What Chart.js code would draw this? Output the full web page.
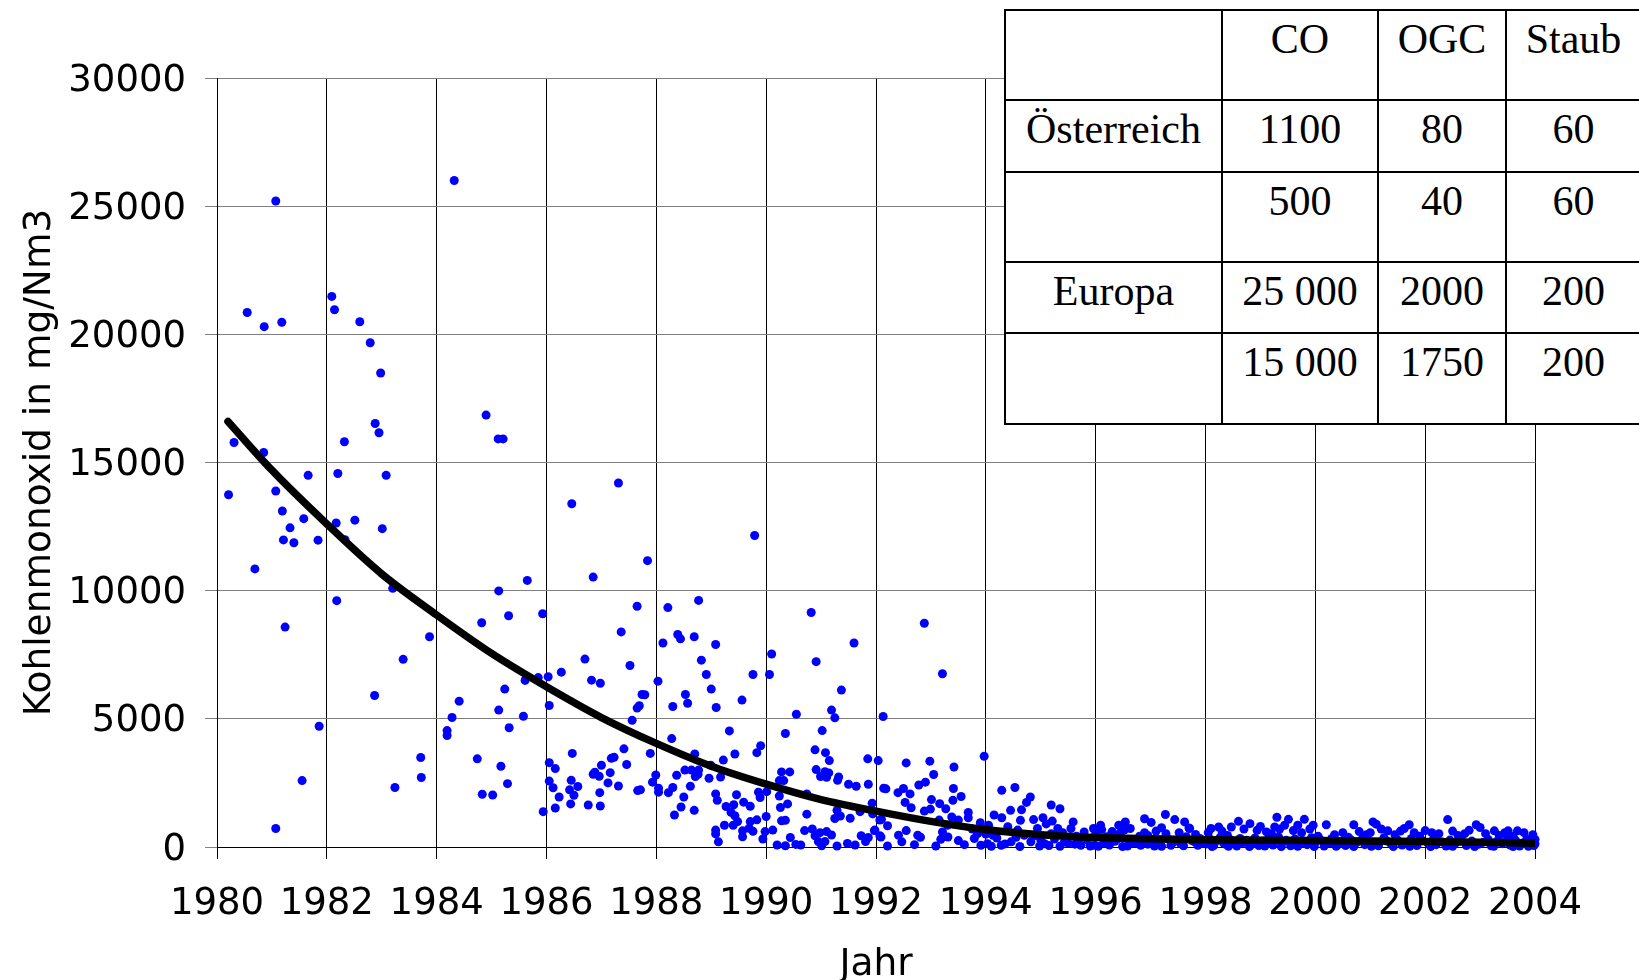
<!DOCTYPE html>
<html>
<head>
<meta charset="utf-8">
<script src="https://cdn.jsdelivr.net/npm/chart.js@4/dist/chart.umd.min.js"></script>
<style>
  body { margin: 0; width: 1639px; height: 980px; overflow: hidden; background: #fff; position: relative; }
  #myChart { position: absolute; left: 0; top: 0; }
  .cell {
    position: absolute; box-sizing: border-box; border: 2px solid #000; background: #fff;
    font: 42px "Liberation Serif", "Times New Roman", serif; line-height: 42px;
    padding-top: 7px; text-align: center; color: #000; white-space: nowrap;
  }
</style>
</head>
<body>
<canvas id="myChart" width="1639" height="980"></canvas>
<div id="limits"></div>
<script>
const early = [
  [1981.07, 25200], [1984.32, 26000], [1980.55, 20850], [1980.86, 20300], [1981.18, 20470],
  [1982.09, 21480], [1982.14, 20960], [1982.60, 20490], [1982.79, 19670], [1982.98, 18490],
  [1982.88, 16520], [1982.95, 16160], [1982.32, 15810], [1980.31, 15780], [1980.85, 15390],
  [1984.90, 16850], [1985.12, 15920], [1985.21, 15920], [1981.66, 14500], [1982.20, 14570],
  [1983.08, 14500], [1981.07, 13890], [1980.21, 13740], [1981.19, 13110], [1981.58, 12810],
  [1981.33, 12450], [1981.21, 11980], [1981.40, 11870], [1981.84, 11970], [1982.17, 12640],
  [1982.51, 12750], [1983.01, 12420], [1982.33, 11990], [1980.69, 10850], [1983.20, 10090],
  [1982.18, 9610], [1981.24, 8580], [1983.87, 8200], [1983.39, 7320], [1982.87, 5910],
  [1981.86, 4710], [1981.55, 2590], [1981.07, 720], [1983.24, 2320], [1983.71, 3490],
  [1983.72, 2710], [1984.19, 4540], [1984.19, 4350], [1984.28, 5050], [1984.41, 5690],
  [1984.82, 8750], [1985.13, 9990], [1985.65, 10400], [1985.31, 9020], [1985.93, 9100],
  [1985.24, 6160], [1985.13, 5340], [1985.58, 5100], [1985.32, 4650], [1985.61, 6500],
  [1985.85, 6610], [1984.74, 3440], [1985.17, 3150], [1985.29, 2470], [1984.83, 2060],
  [1985.02, 2030], [1985.94, 1380]
];

const middle = [
  [1986.03, 6640], [1986.27, 6820], [1986.05, 5520], [1986.05, 3290], [1986.16, 3060],
  [1986.05, 2570], [1986.12, 2310], [1986.23, 1950], [1986.16, 1520],
  [1987.31, 14200], [1986.46, 13390], [1989.79, 12150], [1987.84, 11170], [1986.85, 10530],
  [1987.65, 9390], [1988.21, 9340], [1988.77, 9620], [1990.82, 9150], [1987.36, 8390],
  [1988.12, 7960], [1988.39, 8290], [1988.44, 8120], [1988.69, 8200], [1989.08, 7900],
  [1991.60, 7960], [1988.82, 7290], [1990.10, 7530], [1990.91, 7230], [1986.70, 7330],
  [1987.52, 7080], [1986.82, 6510], [1986.98, 6390], [1988.91, 6730], [1989.76, 6730],
  [1990.06, 6730], [1988.03, 6470], [1989.00, 6160], [1991.37, 6120], [1987.74, 5950],
  [1987.79, 5940], [1988.53, 5950], [1988.57, 5610], [1989.56, 5730], [1987.69, 5510],
  [1987.65, 5420], [1988.30, 5480], [1989.09, 5440], [1991.19, 5340], [1991.25, 5040],
  [1990.55, 5180], [1987.56, 4940], [1989.33, 4530], [1990.35, 4430], [1991.02, 4540],
  [1988.28, 4230], [1987.41, 3830], [1989.90, 3950], [1989.83, 3680], [1990.89, 3790],
  [1991.08, 3680], [1991.15, 3370], [1991.85, 3440], [1992.04, 3370], [1986.47, 3650],
  [1987.89, 3650], [1988.70, 3630], [1989.43, 3630], [1989.22, 3390], [1987.23, 3500],
  [1987.18, 3460], [1987.46, 3220], [1987.00, 3190], [1986.88, 2920], [1986.85, 2840],
  [1986.96, 2760], [1987.16, 2900], [1987.12, 2500], [1987.31, 2380], [1986.45, 2600],
  [1986.57, 2360], [1986.42, 2230], [1986.50, 2020], [1986.44, 1680], [1986.76, 1640],
  [1986.98, 1600], [1986.97, 2120], [1987.66, 2200], [1987.71, 2230], [1987.93, 2530],
  [1987.99, 2810], [1988.04, 2290], [1988.04, 2140], [1988.22, 2120], [1988.30, 2320],
  [1988.37, 2800], [1988.50, 1950], [1988.45, 1560], [1988.33, 1250], [1988.69, 1430],
  [1988.62, 2370], [1988.52, 3000], [1988.64, 3000], [1988.77, 3000], [1988.71, 2750],
  [1988.76, 2840], [1988.96, 2680], [1988.99, 3190], [1989.17, 2730], [1989.08, 2070],
  [1989.11, 1820], [1989.27, 1580], [1989.36, 1350], [1989.46, 2040], [1989.41, 1650],
  [1989.59, 1750], [1989.71, 1590], [1989.43, 1220], [1989.48, 990], [1989.40, 850],
  [1989.24, 850], [1989.08, 660], [1989.08, 510], [1989.13, 200], [1989.57, 630],
  [1989.57, 400], [1989.69, 730], [1989.76, 610], [1989.71, 990], [1989.83, 1060],
  [1989.86, 2140], [1989.89, 1930], [1990.00, 1190], [1990.01, 2160], [1989.94, 310],
  [1989.98, 600], [1990.12, 660], [1990.20, 80], [1990.24, 2590], [1990.32, 2590],
  [1990.28, 2930], [1990.43, 2930], [1990.24, 1990], [1990.26, 1540], [1990.39, 1680],
  [1990.28, 1020], [1990.35, 1040], [1990.35, 50], [1990.44, 370], [1990.54, 100],
  [1990.63, 80], [1990.74, 1280], [1990.74, 2070], [1990.70, 640], [1990.84, 700],
  [1990.89, 440], [1990.98, 560], [1990.95, 210], [1991.01, 50], [1991.10, 600],
  [1991.19, 470], [1991.07, 210], [1991.29, 40], [1991.48, 140], [1991.62, 80],
  [1991.73, 440], [1991.81, 210], [1991.86, 370], [1991.98, 660], [1992.07, 440],
  [1990.91, 3020], [1990.99, 2750], [1991.07, 2940], [1991.14, 2890], [1991.10, 2720],
  [1991.32, 2730], [1991.30, 2600], [1991.50, 2450], [1991.64, 2370], [1991.86, 2450],
  [1991.29, 1430], [1991.25, 1110], [1991.35, 1210], [1991.53, 1120], [1991.71, 1380],
  [1991.93, 1710], [1991.94, 1290], [1992.10, 1080], [1992.13, 5090], [1992.14, 2290]
];

const late = [
  [1992.88, 8730], [1993.21, 6760], [1993.97, 3540], [1992.55, 3280], [1992.98, 3350],
  [1993.42, 3120], [1993.05, 2830], [1992.18, 2270], [1992.90, 2530], [1992.78, 2420],
  [1993.41, 2280], [1992.40, 2120], [1992.50, 2280], [1992.62, 2070], [1993.55, 1970],
  [1993.01, 1850], [1993.16, 1690], [1993.40, 1820], [1992.53, 1740], [1992.64, 1530],
  [1993.27, 1490], [1992.88, 1400], [1992.99, 1480], [1993.68, 1350], [1993.68, 1140],
  [1993.38, 1170], [1994.29, 2210], [1994.53, 2320], [1994.81, 1950], [1994.74, 1740],
  [1994.45, 1430], [1994.65, 1450], [1995.19, 1640], [1995.35, 1490], [1994.15, 1250],
  [1994.29, 1140], [1994.63, 1040], [1994.87, 1070], [1995.04, 1140], [1995.21, 1010],
  [1995.59, 980], [1996.09, 850], [1996.11, 680], [1996.42, 850], [1996.54, 980],
  [1996.63, 720], [1996.89, 1100], [1997.01, 960], [1997.27, 1270], [1997.44, 1070],
  [1997.62, 980], [1997.20, 750], [1997.71, 720], [1997.82, 490], [1992.07, 1050],
  [1992.21, 830], [1991.97, 640], [1992.55, 640], [1992.41, 460], [1992.21, 40],
  [1992.09, 390], [1992.76, 460], [1992.81, 380], [1992.47, 200], [1992.70, 90],
  [1993.09, 40], [1993.21, 590], [1993.18, 300], [1993.31, 390], [1993.61, 90],
  [1993.79, 330], [1993.91, 70], [1994.03, 130], [1994.13, 460], [1994.28, 70],
  [1994.40, 790], [1994.46, 200], [1994.58, 660], [1994.70, 460], [1994.82, 200],
  [1994.94, 720], [1995.07, 130], [1995.19, 520], [1995.31, 720], [1995.43, 200],
  [1995.55, 720], [1995.73, 70], [1995.79, 590], [1995.96, 720], [1995.98, 70],
  [1996.28, 460], [1996.49, 20], [1996.52, 660], [1996.82, 70], [1996.89, 560],
  [1997.07, 40], [1997.28, 520], [1997.37, 70], [1997.52, 560], [1997.86, 70],
  [1993.50, 1050], [1993.75, 700], [1993.90, 950], [1994.00, 500], [1993.30, 850],
  [1993.15, 1050], [1993.50, 250], [1993.85, 520], [1994.05, 850], [1994.20, 350],
  [1994.35, 120], [1994.55, 380], [1994.90, 450], [1995.00, 280], [1995.10, 900],
  [1995.25, 310], [1995.40, 560], [1995.50, 150], [1995.65, 420], [1995.85, 260],
  [1996.00, 510], [1996.15, 160], [1996.20, 400], [1996.35, 220], [1996.45, 560],
  [1996.60, 300], [1996.70, 150], [1996.80, 420], [1997.00, 250], [1997.10, 620],
  [1997.15, 180], [1997.30, 330], [1997.45, 240], [1997.55, 120], [1997.65, 400],
  [1997.75, 250], [1997.90, 330], [1997.95, 150], [1997.70, 740],
  [1994.10, 30], [1994.62, 20], [1994.98, 40], [1995.15, 60], [1995.35, 30],
  [1995.62, 110], [1995.90, 40], [1996.05, 30], [1996.25, 80], [1996.40, 320],
  [1996.58, 40], [1996.75, 250], [1996.95, 110], [1997.20, 30], [1997.40, 160],
  [1997.60, 50], [1997.80, 200], [1996.30, 600], [1996.95, 450], [1995.70, 350]
];

const recent = [
  [1998.10, 720], [1998.24, 780], [1998.47, 780], [1998.60, 1000], [1998.81, 910],
  [1998.94, 650], [1999.11, 590], [1999.30, 1160], [1999.26, 780], [1999.51, 1080],
  [1999.44, 850], [1999.68, 850], [1999.80, 1080], [1999.96, 850], [2000.20, 870],
  [2000.35, 480], [2000.70, 870], [2001.05, 980], [2001.11, 890], [2000.93, 480],
  [2001.32, 630], [2001.62, 720], [2001.71, 870], [2002.12, 560], [2002.41, 1070],
  [2002.72, 520], [2002.93, 870], [2003.26, 630], [2003.51, 630], [2003.68, 630],
  [2003.96, 480], [1998.05, 560], [1998.30, 620], [1998.40, 450], [1998.70, 700],
  [1999.00, 800], [1999.20, 520], [1999.35, 700], [1999.60, 640], [1999.75, 560],
  [1999.90, 700], [2000.05, 420], [2000.50, 560], [2000.60, 380], [2000.80, 600],
  [2001.00, 560], [2001.20, 700], [2001.45, 480], [2001.55, 620], [2001.80, 560],
  [2001.90, 420], [2002.00, 640], [2002.25, 520], [2002.50, 620], [2002.60, 450],
  [2002.80, 650], [2003.00, 760], [2003.10, 520], [2003.35, 450], [2003.45, 560],
  [2003.60, 420], [2003.80, 560], [2004.00, 300],
  [1998.02, 120], [1998.08, 310], [1998.15, 60], [1998.20, 240], [1998.27, 380],
  [1998.33, 150], [1998.38, 90], [1998.45, 290], [1998.50, 200], [1998.57, 40],
  [1998.63, 330], [1998.68, 170], [1998.75, 260], [1998.85, 110], [1998.90, 350],
  [1998.97, 60], [1999.05, 220], [1999.14, 300], [1999.18, 140], [1999.23, 80],
  [1999.33, 390], [1999.40, 190], [1999.47, 260], [1999.55, 50], [1999.63, 310],
  [1999.72, 140], [1999.78, 230], [1999.85, 90], [1999.93, 360], [2000.00, 180],
  [2000.10, 270], [2000.16, 40], [2000.25, 150], [2000.30, 330], [2000.42, 100],
  [2000.48, 220], [2000.55, 60], [2000.65, 280], [2000.75, 170], [2000.85, 300],
  [2000.90, 90], [2000.98, 210], [2001.08, 140], [2001.15, 50], [2001.25, 360],
  [2001.30, 230], [2001.38, 120], [2001.50, 270], [2001.58, 80], [2001.67, 190],
  [2001.75, 330], [2001.85, 60], [2001.95, 240], [2002.05, 150], [2002.15, 300],
  [2002.20, 90], [2002.30, 200], [2002.38, 40], [2002.45, 270], [2002.55, 140],
  [2002.65, 320], [2002.75, 60], [2002.85, 230], [2002.98, 110], [2003.05, 180],
  [2003.15, 290], [2003.20, 50], [2003.30, 210], [2003.40, 130], [2003.50, 340],
  [2003.55, 80], [2003.65, 250], [2003.72, 40], [2003.78, 160], [2003.85, 300],
  [2003.92, 90], [2003.98, 60],
  [1998.12, 20], [1998.42, 30], [1998.80, 20], [1999.08, 40], [1999.38, 20],
  [1999.68, 30], [1999.98, 20], [2000.38, 30], [2000.70, 20], [2001.02, 30],
  [2001.42, 20], [2001.72, 30], [2002.10, 20], [2002.50, 30], [2002.90, 20],
  [2003.25, 30], [2003.60, 20], [2003.88, 30], [2004.00, 120], [2003.95, 200]
];

// trend curve
const trendYears = [1980.2, 1981, 1982, 1983, 1984, 1985, 1986, 1987, 1988, 1989, 1990, 1991, 1992, 1993, 1994, 1995, 1996, 1997, 1998, 2000, 2002, 2004];
const trendCO = [16600, 14700, 12600, 10650, 9050, 7550, 6250, 5050, 4040, 3150, 2450, 1850, 1400, 1000, 680, 480, 370, 320, 285, 250, 210, 150];

const yearTicks = [1980, 2004, 2];
const coTicks = [0, 30000, 5000];

// Grenzwerte table
const tableHead = ["", "CO", "OGC", "Staub"];
const tableRows = [
  ["Österreich", "1100", "80", "60"],
  ["", "500", "40", "60"],
  ["Europa", "25 000", "2000", "200"],
  ["", "15 000", "1750", "200"]
];

const colX = [1004, 1221, 1377, 1505, 1640];
const rowY = [9, 99, 171, 261, 332, 423];
const box = document.getElementById("limits");
[tableHead, ...tableRows].forEach((row, r) => {
  row.forEach((txt, c) => {
    const d = document.createElement("div");
    d.className = "cell";
    d.style.left = colX[c] + "px";
    d.style.top = rowY[r] + "px";
    d.style.width = (colX[c + 1] - colX[c] + 2) + "px";
    d.style.height = (rowY[r + 1] - rowY[r] + 2) + "px";
    d.textContent = txt;
    box.appendChild(d);
  });
});

const family = "'DejaVu Sans', Verdana, sans-serif";
const tickFont = { family, size: 37, lineHeight: 1 };
const titleFont = { family, size: 37.5, lineHeight: 1 };
const points = [...early, ...middle, ...late, ...recent].map(([x, y]) => ({ x, y }));
const trend = trendYears.map((x, i) => ({ x, y: trendCO[i] }));

const ctx = document.getElementById("myChart").getContext("2d");
const myChart = new Chart(ctx, {
  type: "scatter",
  data: {
    datasets: [
      {
        data: trend,
        showLine: true,
        borderColor: "#000",
        borderWidth: 7.5,
        borderCapStyle: "round",
        cubicInterpolationMode: "monotone",
        pointRadius: 0,
        order: 0,
      },
      {
        data: points,
        backgroundColor: "#0000ff",
        borderColor: "#0000ff",
        borderWidth: 0,
        pointRadius: 4.5,
        clip: false,
        order: 1,
      },
    ],
  },
  options: {
    responsive: false,
    animation: false,
    devicePixelRatio: 1,
    layout: { padding: { left: 0, top: 78, right: 104, bottom: 0 } },
    plugins: { legend: { display: false }, tooltip: { enabled: false } },
    scales: {
      x: {
        type: "linear",
        min: yearTicks[0],
        max: yearTicks[1],
        ticks: { stepSize: yearTicks[2], font: tickFont, color: "#000", padding: 27, callback: (v) => String(v) },
        grid: { color: "#000", lineWidth: 1, tickLength: 12 },
        border: { color: "#000" },
        title: { display: true, text: "Jahr", font: titleFont, color: "#000", padding: { top: 0, bottom: -4 } },
        afterFit: (s) => { s.height = 133; },
      },
      y: {
        min: coTicks[0],
        max: coTicks[1],
        ticks: { stepSize: coTicks[2], font: tickFont, color: "#000", padding: 19, labelOffset: 3, callback: (v) => String(v) },
        grid: { color: "#808080", lineWidth: 1, tickLength: 12 },
        border: { color: "#000" },
        title: { display: true, text: "Kohlenmonoxid in mg/Nm3", font: titleFont, color: "#000", padding: { top: 22, bottom: 0 } },
        afterFit: (s) => { s.width = 217; },
      },
    },
  },
});
</script>
</body>
</html>
